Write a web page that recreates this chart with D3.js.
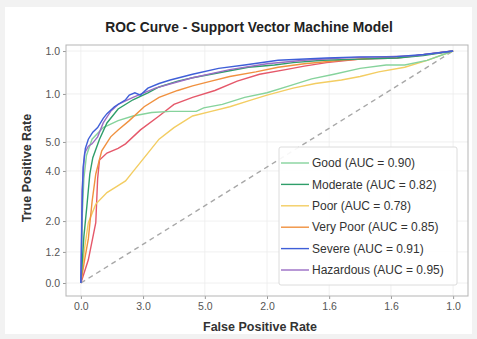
<!DOCTYPE html>
<html>
<head>
<meta charset="utf-8">
<script src="https://cdn.jsdelivr.net/npm/d3@7"></script>
<style>
  html, body { margin: 0; padding: 0; background: #f2f2f2; }
  svg { display: block; }
</style>
</head>
<body>
<div id="chart"></div>
<script>
// ---- data ----
const title = 'ROC Curve - Support Vector Machine Model';
const xLabel = 'False Positive Rate';
const yLabel = 'True Positive Rate';

// tick positions (data space) and the labels printed there
const xTickValues = [0, 0.167, 0.333, 0.5, 0.667, 0.833, 1.0];
const xTickLabels = ['0.0', '3.0', '5.0', '2.0', '1.6', '1.6', '1.0'];
const yTickValues = [1.0, 0.815, 0.608, 0.483, 0.267, 0.134, 0.0];
const yTickLabels = ['1.0', '1.0', '5.0', '4.0', '2.0', '1.2', '0.0'];

const categories = ['Good', 'Moderate', 'Poor', 'Very Poor', 'Severe', 'Hazardous'];
const aucValues = [0.90, 0.82, 0.78, 0.85, 0.91, 0.95];
const colors = ['#86d39c', '#2f9e6a', '#f3cd62', '#f0913f', '#3f5fd8', '#9a6cc4'];

const good = [[0,0],[0.002,0.12],[0.004,0.3],[0.008,0.45],[0.015,0.55],[0.03,0.62],[0.06,0.67],[0.1,0.7],[0.14,0.72],[0.19,0.735],[0.24,0.74],[0.31,0.74],[0.33,0.755],[0.38,0.77],[0.44,0.8],[0.5,0.82],[0.56,0.85],[0.62,0.88],[0.68,0.9],[0.75,0.925],[0.82,0.94],[0.87,0.94],[0.93,0.96],[1,1]];
const moderate = [[0,0],[0.008,0.2],[0.016,0.33],[0.024,0.47],[0.032,0.54],[0.05,0.62],[0.07,0.69],[0.1,0.75],[0.14,0.79],[0.18,0.82],[0.21,0.845],[0.26,0.87],[0.3,0.885],[0.35,0.9],[0.4,0.915],[0.45,0.93],[0.52,0.94],[0.57,0.95],[0.65,0.96],[0.75,0.965],[0.85,0.97],[0.92,0.98],[1,1]];
const poor = [[0,0],[0.01,0.15],[0.02,0.26],[0.04,0.34],[0.07,0.39],[0.1,0.42],[0.12,0.44],[0.14,0.48],[0.16,0.52],[0.18,0.56],[0.21,0.62],[0.25,0.67],[0.3,0.72],[0.35,0.74],[0.4,0.76],[0.45,0.785],[0.5,0.81],[0.57,0.84],[0.63,0.86],[0.7,0.875],[0.75,0.89],[0.8,0.91],[0.87,0.93],[0.93,0.96],[1,1]];
const veryPoor = [[0,0],[0.01,0.1],[0.02,0.19],[0.03,0.35],[0.04,0.47],[0.056,0.57],[0.08,0.63],[0.1,0.66],[0.13,0.7],[0.17,0.76],[0.21,0.8],[0.26,0.83],[0.3,0.85],[0.35,0.87],[0.4,0.89],[0.47,0.91],[0.53,0.93],[0.6,0.945],[0.7,0.96],[0.8,0.97],[0.9,0.98],[1,1]];
const severe = [[0,0],[0.003,0.3],[0.006,0.5],[0.012,0.58],[0.02,0.62],[0.032,0.65],[0.045,0.67],[0.06,0.71],[0.07,0.73],[0.09,0.76],[0.12,0.79],[0.13,0.81],[0.145,0.82],[0.16,0.81],[0.18,0.84],[0.21,0.86],[0.24,0.875],[0.3,0.9],[0.37,0.925],[0.44,0.94],[0.53,0.96],[0.66,0.97],[0.75,0.975],[0.84,0.975],[0.92,0.985],[1,1]];
const hazardous = [[0,0],[0.001,0.11],[0.003,0.4],[0.01,0.56],[0.02,0.59],[0.03,0.6],[0.045,0.63],[0.06,0.69],[0.08,0.74],[0.1,0.77],[0.14,0.8],[0.2,0.84],[0.3,0.885],[0.4,0.92],[0.5,0.945],[0.6,0.96],[0.7,0.97],[0.8,0.975],[0.9,0.98],[1,1]];
// a red curve that shows in the plot but has no legend entry
const unlabeled = [[0,0],[0.02,0.1],[0.04,0.26],[0.045,0.45],[0.05,0.53],[0.07,0.56],[0.1,0.58],[0.12,0.6],[0.16,0.66],[0.21,0.72],[0.25,0.77],[0.3,0.8],[0.36,0.83],[0.42,0.87],[0.48,0.9],[0.55,0.92],[0.6,0.935],[0.66,0.95],[0.75,0.965],[0.85,0.97],[1,1]];
const unlabeledColor = '#e5586a';

const seriesData = [good, moderate, poor, veryPoor, severe, hazardous];

// ---- layout ----
const W = 477, H = 339;
const margin = { top: 45, right: 9, bottom: 43, left: 66 };
const width = W - margin.left - margin.right;
const height = H - margin.top - margin.bottom;

const svg = d3.select('#chart').append('svg')
  .attr('width', W)
  .attr('height', H)
  .style('font-family', '"Liberation Sans", Arial, sans-serif');

svg.append('rect')
  .attr('x', 5).attr('y', 7)
  .attr('width', W - 10).attr('height', H - 12)
  .attr('fill', '#fff');

const g = svg.append('g')
  .attr('transform', 'translate(' + margin.left + ',' + margin.top + ')');

const x = d3.scaleLinear().domain([-0.04, 1.04]).range([0, width]);
const y = d3.scaleLinear().domain([-0.056, 1.026]).range([height, 0]);

// grid
g.append('g').selectAll('line.vg')
  .data(xTickValues).enter().append('line')
  .attr('x1', d => x(d)).attr('x2', d => x(d))
  .attr('y1', 0).attr('y2', height)
  .attr('stroke', '#ececec').attr('stroke-width', 0.8);
g.append('g').selectAll('line.hg')
  .data(yTickValues).enter().append('line')
  .attr('x1', 0).attr('x2', width)
  .attr('y1', d => y(d)).attr('y2', d => y(d))
  .attr('stroke', '#ececec').attr('stroke-width', 0.8);

// axes
const xAxis = d3.axisBottom(x)
  .tickValues(xTickValues)
  .tickFormat((d, i) => xTickLabels[i])
  .tickSize(3).tickPadding(4);
const yAxis = d3.axisLeft(y)
  .tickValues(yTickValues)
  .tickFormat((d, i) => yTickLabels[i])
  .tickSize(3).tickPadding(3);

const gx = g.append('g').attr('transform', 'translate(0,' + height + ')').call(xAxis);
const gy = g.append('g').call(yAxis);
[gx, gy].forEach(a => {
  a.select('.domain').remove();
  a.selectAll('.tick line').attr('stroke', '#999');
  a.selectAll('.tick text').attr('fill', '#555').style('font-size', '10.5px');
});

// frame
g.append('rect')
  .attr('width', width).attr('height', height)
  .attr('fill', 'none').attr('stroke', '#b5b5b5').attr('stroke-width', 1);

// diagonal
const line = d3.line().x(d => x(d[0])).y(d => y(d[1]));
g.append('path')
  .datum([[0, 0], [1, 1]])
  .attr('d', line)
  .attr('fill', 'none')
  .attr('stroke', '#a8a8a8')
  .attr('stroke-width', 1.4)
  .attr('stroke-dasharray', '5,4');

// curves
g.append('path')
  .datum(unlabeled)
  .attr('d', line)
  .attr('fill', 'none')
  .attr('stroke', unlabeledColor)
  .attr('stroke-width', 1.4);

const drawOrder = [2, 0, 3, 1, 5, 4];
drawOrder.forEach(i => {
  g.append('path')
    .datum(seriesData[i])
    .attr('d', line)
    .attr('fill', 'none')
    .attr('stroke', colors[i])
    .attr('stroke-width', 1.4);
});

// legend
const lg = svg.append('g').attr('transform', 'translate(279,147)');
lg.append('rect')
  .attr('width', 178).attr('height', 138)
  .attr('rx', 2)
  .attr('fill', '#fff').attr('fill-opacity', 0.9)
  .attr('stroke', '#dcdcdc');
const rows = lg.selectAll('g.row')
  .data(categories).enter().append('g')
  .attr('transform', (d, i) => 'translate(0,' + (16 + i * 21.4) + ')');
rows.append('line')
  .attr('x1', 2).attr('x2', 30)
  .attr('stroke', (d, i) => colors[i])
  .attr('stroke-width', 1.4);
rows.append('text')
  .attr('x', 33).attr('dy', '0.35em')
  .attr('fill', '#333')
  .style('font-size', '12px')
  .text((d, i) => d + ' (AUC = ' + aucValues[i].toFixed(2) + ')');

// titles
svg.append('text')
  .attr('x', 249).attr('y', 32)
  .attr('text-anchor', 'middle')
  .attr('fill', '#222')
  .style('font-size', '13.8px').style('font-weight', 'bold')
  .text(title);
svg.append('text')
  .attr('x', 260).attr('y', 331)
  .attr('text-anchor', 'middle')
  .attr('fill', '#333')
  .style('font-size', '12.5px').style('font-weight', 'bold')
  .text(xLabel);
svg.append('text')
  .attr('transform', 'translate(31,168) rotate(-90)')
  .attr('text-anchor', 'middle')
  .attr('fill', '#333')
  .style('font-size', '12.5px').style('font-weight', 'bold')
  .text(yLabel);
</script>
</body>
</html>
